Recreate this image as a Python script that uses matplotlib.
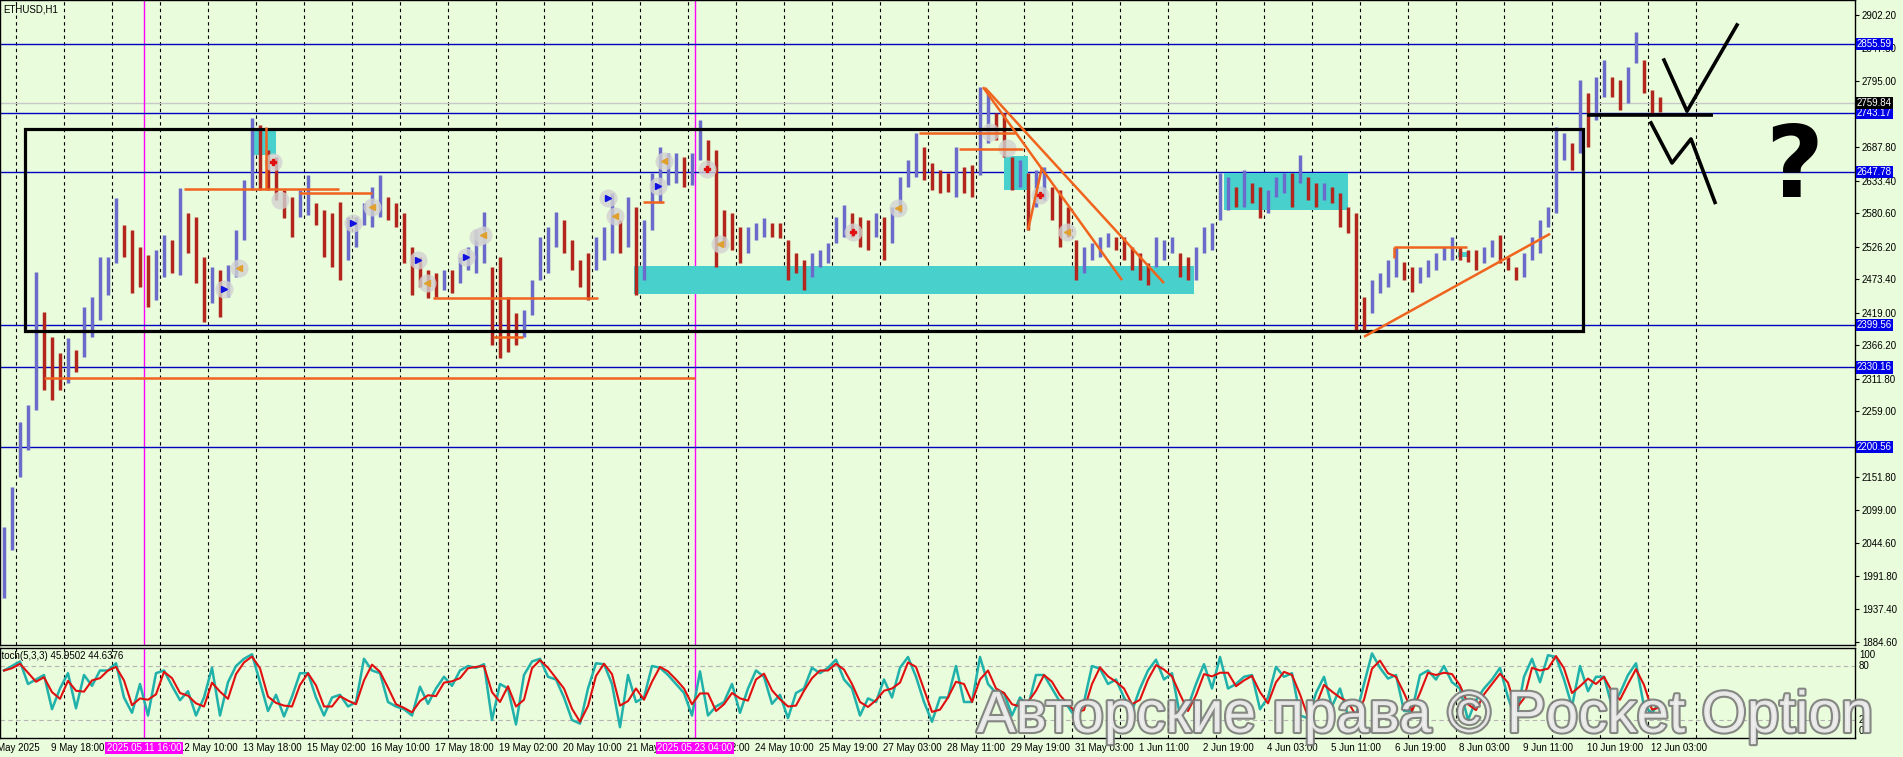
import numpy as np
import pandas as pd
import matplotlib.pyplot as plt
import matplotlib.patheffects as pe
from matplotlib.patches import Rectangle
from matplotlib.transforms import blended_transform_factory as blend

W, H = 1903, 757
BG = '#e9fcdb'

# ETHUSD H1, grouped in 4-hour blocks (highs / lows)
hi = [2071, 2136, 2242, 2269, 2485, 2420, 2380, 2354, 2378, 2358,
      2428, 2444, 2509, 2509, 2605, 2561, 2553, 2526, 2513, 2521,
      2545, 2537, 2621, 2581, 2574, 2509, 2493, 2488, 2496, 2553,
      2634, 2735, 2724, 2683, 2672, 2618, 2607, 2618, 2642, 2597,
      2586, 2581, 2599, 2574, 2574, 2597, 2623, 2642, 2607, 2597,
      2581, 2526, 2509, 2488, 2483, 2488, 2488, 2509, 2526, 2553,
      2582, 2493, 2509, 2444, 2418, 2423, 2472, 2542, 2558, 2582,
      2569, 2537, 2505, 2516, 2542, 2558, 2613, 2569, 2607, 2591,
      2569, 2646, 2688, 2678, 2678, 2672, 2678, 2732, 2699, 2683,
      2586, 2581, 2558, 2558, 2565, 2573, 2565, 2565, 2537, 2516,
      2505, 2516, 2521, 2532, 2574, 2594, 2581, 2574, 2569, 2581,
      2574, 2591, 2639, 2667, 2711, 2688, 2662, 2651, 2646, 2688,
      2655, 2659, 2785, 2776, 2743, 2743, 2672, 2667, 2646, 2651,
      2655, 2623, 2618, 2591, 2537, 2526, 2532, 2542, 2548, 2542,
      2542, 2526, 2516, 2500, 2542, 2537, 2542, 2516, 2509, 2526,
      2558, 2565, 2646, 2639, 2623, 2651, 2629, 2623, 2618, 2639,
      2646, 2646, 2675, 2639, 2629, 2629, 2623, 2613, 2591, 2581,
      2444, 2472, 2483, 2505, 2526, 2501, 2493, 2493, 2505, 2516,
      2526, 2542, 2526, 2521, 2521, 2526, 2537, 2545, 2509, 2493,
      2516, 2542, 2569, 2591, 2720, 2711, 2694, 2797, 2776, 2802,
      2829, 2802, 2797, 2818, 2875, 2829, 2780, 2769]
lo = [1956, 2034, 2152, 2196, 2261, 2294, 2277, 2294, 2305, 2323,
      2347, 2380, 2407, 2448, 2500, 2509, 2451, 2461, 2428, 2440,
      2477, 2483, 2480, 2516, 2467, 2404, 2435, 2412, 2444, 2477,
      2537, 2618, 2618, 2618, 2602, 2573, 2542, 2574, 2578, 2561,
      2509, 2493, 2472, 2505, 2526, 2561, 2558, 2574, 2569, 2558,
      2500, 2448, 2461, 2443, 2444, 2456, 2451, 2467, 2488, 2483,
      2500, 2367, 2345, 2355, 2367, 2380, 2415, 2472, 2483, 2526,
      2516, 2488, 2461, 2440, 2488, 2505, 2516, 2516, 2526, 2448,
      2472, 2553, 2597, 2626, 2629, 2623, 2626, 2667, 2651, 2493,
      2526, 2521, 2500, 2516, 2537, 2542, 2542, 2540, 2472, 2483,
      2456, 2477, 2493, 2500, 2532, 2542, 2542, 2526, 2521, 2542,
      2505, 2532, 2581, 2623, 2639, 2634, 2618, 2613, 2615, 2607,
      2613, 2607, 2642, 2694, 2699, 2672, 2618, 2623, 2553, 2591,
      2602, 2569, 2526, 2542, 2472, 2483, 2505, 2509, 2526, 2521,
      2505, 2488, 2472, 2464, 2493, 2505, 2516, 2477, 2472, 2472,
      2516, 2521, 2569, 2586, 2591, 2591, 2597, 2573, 2581, 2607,
      2613, 2591, 2629, 2602, 2591, 2602, 2597, 2558, 2548, 2391,
      2391, 2418, 2451, 2461, 2477, 2472, 2453, 2467, 2477, 2488,
      2505, 2505, 2505, 2501, 2488, 2500, 2509, 2500, 2488, 2472,
      2477, 2505, 2516, 2558, 2581, 2667, 2651, 2678, 2688, 2732,
      2769, 2769, 2748, 2759, 2824, 2776, 2743, 2745]

# Stochastic %K (5,3,3), same 4-hour blocks
stoch_k = [75, 80, 85, 60, 65, 70, 32, 55, 72, 33,
           70, 58, 75, 75, 83, 45, 28, 60, 25, 72,
           75, 58, 42, 52, 25, 45, 78, 25, 62, 80,
           88, 93, 62, 30, 48, 24, 46, 72, 72, 45,
           25, 45, 48, 35, 40, 88, 75, 72, 40, 35,
           32, 25, 57, 38, 55, 68, 58, 75, 80, 78,
           82, 20, 60, 55, 15, 70, 85, 88, 68, 65,
           45, 20, 16, 55, 83, 82, 60, 12, 70, 40,
           45, 80, 78, 70, 60, 50, 25, 74, 25, 35,
           40, 60, 28, 55, 75, 68, 38, 48, 22, 50,
           55, 78, 72, 78, 87, 65, 55, 25, 44, 40,
           65, 45, 78, 90, 68, 40, 18, 45, 45, 80,
           40, 40, 90, 60, 50, 50, 25, 45, 35, 70,
           70, 55, 40, 35, 22, 40, 80, 77, 60, 65,
           45, 30, 55, 75, 87, 65, 72, 25, 35, 60,
           82, 55, 90, 55, 60, 68, 70, 32, 45, 79,
           68, 72, 25, 22, 50, 68, 35, 55, 25, 25,
           60, 94, 78, 66, 70, 30, 30, 70, 75, 65,
           80, 62, 55, 20, 42, 55, 65, 78, 45, 20,
           68, 88, 62, 92, 90, 65, 35, 80, 52, 68,
           68, 35, 50, 70, 83, 35, 28, 40]

levels = [2855.59, 2743.17, 2647.78, 2399.56, 2330.16, 2200.56]
bid = 2759.84
price_ticks = [2902.20, 2847.80, 2795.00, 2687.80, 2633.40, 2580.60,
               2526.20, 2473.40, 2419.00, 2366.20, 2311.80, 2259.00,
               2151.80, 2099.00, 2044.60, 1991.80, 1937.40, 1884.60]
date_labels = ['9 May 18:00', '12 May 10:00', '13 May 18:00',
               '15 May 02:00', '16 May 10:00', '17 May 18:00', '19 May 02:00',
               '20 May 10:00', '21 May 18:00', '23 May 02:00', '24 May 10:00',
               '25 May 19:00', '27 May 03:00', '28 May 11:00', '29 May 19:00',
               '31 May 03:00', '1 Jun 11:00', '2 Jun 19:00', '4 Jun 03:00',
               '5 Jun 11:00', '6 Jun 19:00', '8 Jun 03:00', '9 Jun 11:00',
               '10 Jun 19:00', '12 Jun 03:00']
# label slot of each entry (one slot every 32 bars, slot 1 hidden by the marker box)
date_slots = [0] + list(range(2, 26))
marked_times = [(72, '2025.05.11 16:00'), (347.5, '2025.05.23 04:00')]

# drawn objects, in (bar, price)
zones = [(126, 138, 2675, 2716), (317, 597, 2449, 2495), (502, 514, 2618, 2673),
         (612, 674, 2586, 2646), (729, 734.5, 2509, 2517)]
orange_lines = [((22, 2313), (347.5, 2313)), ((92, 2620), (169.5, 2620)),
                ((133, 2620), (133, 2720)), ((149.5, 2613), (186, 2613)),
                ((216.5, 2443), (299, 2443)), ((246.5, 2380), (261.5, 2380)),
                ((321.5, 2599), (332, 2599)), ((459.5, 2711), (507.5, 2711)),
                ((479.5, 2685), (511.5, 2685)), ((491.5, 2785), (561, 2472)),
                ((492.5, 2784), (582, 2467)), ((514, 2553), (521, 2655)),
                ((697, 2526), (733.5, 2526)), ((697, 2526), (697, 2508)),
                ((682, 2380), (775, 2547))]
box = (12.5, 791.5, 2389, 2717)
sketch_hline = ((793.5, 2740), (856.5, 2740))
sketch_up = [(832, 2829), (843.5, 2746), (868.5, 2886)]
sketch_down = [(825.5, 2727), (836, 2662), (845.5, 2701), (857.5, 2598)]
sig_x = [136.5, 140, 119.5, 112, 176.5, 186, 209, 213.5, 233, 239, 241.5, 304,
         307.5, 332, 329, 353.5, 360, 426.5, 449, 495, 503.5, 520, 533.5]
sig_y = [2664, 2602, 2491, 2457, 2565, 2591, 2505, 2467, 2509, 2542, 2545, 2605,
         2576, 2665, 2625, 2652, 2530, 2550, 2589, 2712, 2686, 2610, 2550]
buy_x = [112, 176.5, 209, 233, 304, 329]
buy_y = [2457, 2565, 2505, 2509, 2605, 2625]
sell_x = [136.5, 426.5, 353.5, 520]
sell_y = [2664, 2550, 2652, 2610]
exit_x = [119.5, 186, 213.5, 307.5, 332, 360, 449, 533.5, 241.5]
exit_y = [2491, 2591, 2467, 2576, 2665, 2530, 2589, 2550, 2545]

hi = np.array(hi, float)
lo = np.array(lo, float)
xb = 4 * np.arange(len(hi)) + 2
mid = (hi + lo) / 2
up = np.r_[True, np.diff(mid) >= 0]
k = pd.Series(stoch_k, dtype=float)
d = k.rolling(2, min_periods=1).mean()

plt.rcParams['font.family'] = ['Liberation Sans', 'DejaVu Sans']

fig = plt.figure(figsize=(W / 100, H / 100), dpi=100, facecolor=BG)
ax = fig.add_axes([0, 1 - 645 / H, 1855 / W, 645 / H], facecolor=BG)
ax2 = fig.add_axes([0, 1 - 738 / H, 1855 / W, 90 / H], facecolor=BG, sharex=ax)
ax.set_xlim(0, 927.5)
ax.set_ylim(1879.7, 2926.5)
ax2.set_ylim(0, 100)

for a in (ax, ax2):
    for s in a.spines.values():
        s.set_color('black')
        s.set_linewidth(1)
    a.tick_params(axis='x', bottom=False, labelbottom=False)
    a.vlines(8 + 24 * np.arange(36), 0, 1, transform=a.get_xaxis_transform(),
             colors='black', linestyles=(0, (3, 3)), lw=0.8, zorder=1)
    for mx, _ in marked_times:
        a.axvline(mx, color='#ff00ff', lw=1, zorder=2)

# price panel
for lv in levels:
    ax.axhline(lv, color='#0000c0', lw=1, zorder=2)
ax.axhline(bid, color='#c8c8c8', lw=1, zorder=1.5)

for x0, x1, y0, y1 in zones:
    ax.add_patch(Rectangle((x0, y0), x1 - x0, y1 - y0, fc='#48d1cc', ec='none', zorder=2.5))

ax.vlines(xb[up], lo[up], hi[up], color='#6b6bcc', lw=2.5, zorder=3)
ax.vlines(xb[~up], lo[~up], hi[~up], color='#b3261e', lw=2.5, zorder=3)

ax.add_patch(Rectangle((box[0], box[2]), box[1] - box[0], box[3] - box[2],
                       fill=False, ec='black', lw=2.3, zorder=5))
for (x0, y0), (x1, y1) in orange_lines:
    ax.plot([x0, x1], [y0, y1], color='#f0641e', lw=1.8, zorder=5, solid_capstyle='butt')

ax.plot(sig_x, sig_y, 'o', ms=13, mfc='#d2d2d2', mec='none', alpha=0.8, zorder=4)
ax.plot(buy_x, buy_y, '>', ms=5, color='#1010e0', zorder=6)
ax.plot(sell_x, sell_y, 'P', ms=5, color='#e01010', zorder=6)
ax.plot(exit_x, exit_y, '<', ms=4, color='#e0a030', zorder=6)

(hx0, hy0), (hx1, hy1) = sketch_hline
ax.plot([hx0, hx1], [hy0, hy1], color='black', lw=2.6, zorder=6, solid_capstyle='butt')
ax.plot(*zip(*sketch_up), color='black', lw=2.6, zorder=6)
ax.plot(*zip(*sketch_down), color='black', lw=2.6, zorder=6)
ax.text(897, 2652, '?', fontsize=72, fontweight='bold', family='DejaVu Sans',
        ha='center', va='center', zorder=6)

ax.yaxis.tick_right()
ax.set_yticks(price_ticks)
ax.set_yticklabels([f'{v:.2f}' for v in price_ticks])
ax.tick_params(axis='y', labelsize=7, length=3, width=0.8, pad=2)

yb = blend(ax.transAxes, ax.transData)
for lv in levels:
    ax.text(1 + 2 / 1855, lv, f'{lv:.2f}', transform=yb, ha='left', va='center',
            fontsize=7, color='white', clip_on=False, zorder=10,
            bbox=dict(boxstyle='square,pad=0.12', fc='#0000e6', ec='none'))
ax.text(1 + 2 / 1855, bid, f'{bid:.2f}', transform=yb, ha='left', va='center',
        fontsize=7, color='white', clip_on=False, zorder=10,
        bbox=dict(boxstyle='square,pad=0.12', fc='black', ec='none'))
ax.text(3 / 1855, 1 - 9 / 645, 'ETHUSD,H1', transform=ax.transAxes, fontsize=7,
        ha='left', va='center')

# stochastic panel
ax2.set_yticks([])
for lv in (80, 20):
    ax2.axhline(lv, color='#b4b4b4', lw=0.8, ls=(0, (4, 3)), zorder=1)
ax2.plot(xb, k, color='#20b2aa', lw=1.8, zorder=3)
ax2.plot(xb, d, color='#e01010', lw=1.5, zorder=4)
ax2.text(-5 / 1855, 1 - 8 / 90, 'Stoch(5,3,3) 45.9502 44.6376', transform=ax2.transAxes,
         fontsize=7, ha='left', va='center')
sb = blend(ax2.transAxes, ax2.transData)
for txt, yv in (('100', 92), ('80', 80), ('20', 20), ('0', 8)):
    ax2.text(1 + 4 / 1855, yv, txt, transform=sb, fontsize=7, ha='left', va='center',
             clip_on=False)

db = blend(ax2.transData, fig.transFigure)
ydate = 1 - 748 / H
ax2.text(20, ydate, '8 May 2025', transform=db, fontsize=7, ha='right', va='center')
for slot, lab in zip(date_slots, date_labels):
    ax2.text(25.5 + 32 * slot, ydate, lab, transform=db, fontsize=7, ha='left',
             va='center', zorder=5)
for mx, lab in marked_times:
    ax2.text(mx, ydate, lab, transform=db, fontsize=7, ha='center', va='center',
             color='white', zorder=8,
             bbox=dict(boxstyle='square,pad=0.15', fc='#ff00ff', ec='none'))

fig.text(0.749, 1 - 717 / H, 'Авторские права © Pocket Option', fontsize=42,
         family='Liberation Sans', color='#f2f2f2', alpha=0.9, ha='center', va='center',
         zorder=20, path_effects=[pe.withStroke(linewidth=3, foreground='#7a7a7a')])

fig.savefig('out.png', dpi=100, facecolor=BG)
